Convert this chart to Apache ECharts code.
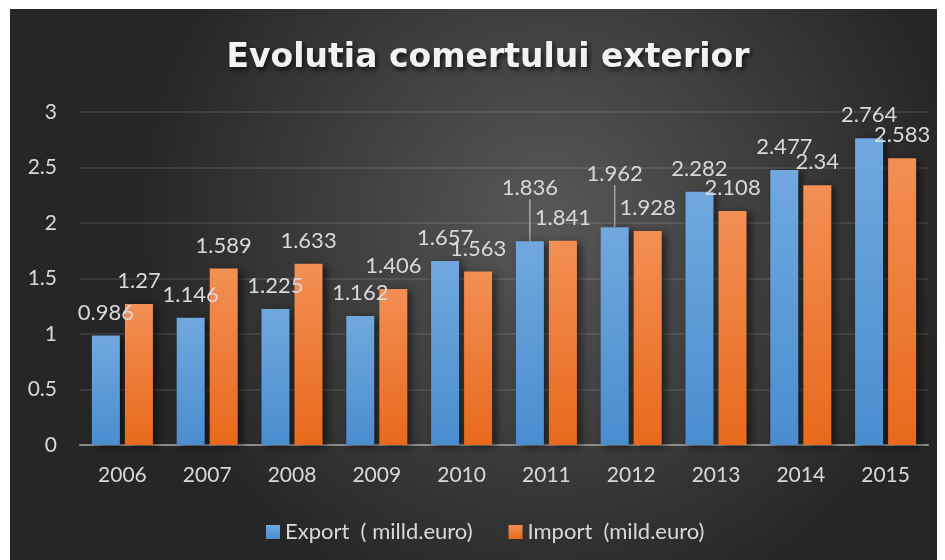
<!DOCTYPE html>
<html>
<head>
<meta charset="utf-8">
<script src="https://cdn.jsdelivr.net/npm/echarts@6/dist/echarts.min.js"></script>
<style>
    html, body { margin: 0; padding: 0; background: #fff; }
    #chart_1 { width: 945px; height: 560px; }
</style>
</head>
<body>
<div id="chart_1"></div>
<script>
// date grafic
var years = ['2006', '2007', '2008', '2009', '2010', '2011', '2012', '2013', '2014', '2015'];
var exportVals = [0.986, 1.146, 1.225, 1.162, 1.657, 1.836, 1.962, 2.282, 2.477, 2.764];
var importVals = [1.27, 1.589, 1.633, 1.406, 1.563, 1.841, 1.928, 2.108, 2.34, 2.583];
var yTicks = [0, 0.5, 1, 1.5, 2, 2.5, 3];
var seriesNames = ['Export  ( milld.euro)', 'Import  (mild.euro)'];
// etichete mutate in sus (cu linie)
var movedLabels = [5, 6];

var chart_1 = echarts.init(document.getElementById('chart_1'));

var txtColor = '#d9d9d9';
var font = 'Lato, "Noto Sans", sans-serif';

function grad(top, bottom) {
    return new echarts.graphic.LinearGradient(0, 0, 0, 1, [
        { offset: 0, color: top },
        { offset: 1, color: bottom }
    ]);
}

var exportData = exportVals.map(function (v, i) {
    if (movedLabels.indexOf(i) >= 0) {
        return { value: v, labelLine: { show: true, lineStyle: { color: '#a6a6a6', width: 1.5 } } };
    }
    return v;
});

var barLabel = {
    show: true,
    position: 'top',
    distance: 12,
    color: txtColor,
    fontSize: 22,
    fontFamily: font
};

var option = {
    backgroundColor: '#ffffff',
    textStyle: { fontFamily: font },
    graphic: [{
        type: 'rect',
        silent: true,
        z: -10,
        left: 10,
        top: 9,
        shape: { width: 927, height: 551 },
        style: {
            fill: new echarts.graphic.RadialGradient(0.58, 0.38, 0.75, [
                { offset: 0, color: '#575757' },
                { offset: 1, color: '#262626' }
            ])
        }
    }],
    title: {
        text: 'Evolutia comertului exterior',
        left: 483,
        top: 37,
        textAlign: 'center',
        textStyle: {
            color: '#f2f2f2',
            fontSize: 33,
            fontWeight: 'bold',
            fontFamily: '"DejaVu Sans", sans-serif',
            textShadowColor: 'rgba(0,0,0,0.7)',
            textShadowBlur: 5,
            textShadowOffsetX: 2,
            textShadowOffsetY: 3
        }
    },
    legend: {
        data: seriesNames,
        left: 261,
        top: 516,
        icon: 'rect',
        itemWidth: 14,
        itemHeight: 14,
        itemGap: 36,
        textStyle: { color: txtColor, fontSize: 22, fontFamily: font }
    },
    grid: {
        left: 80,
        right: 17,
        top: 112,
        bottom: 115
    },
    xAxis: {
        type: 'category',
        data: years,
        axisTick: { show: false },
        axisLine: { lineStyle: { color: '#8c8c8c', width: 2 } },
        axisLabel: { color: txtColor, fontSize: 21, margin: 20, fontFamily: font }
    },
    yAxis: {
        type: 'value',
        min: yTicks[0],
        max: yTicks[yTicks.length - 1],
        interval: 0.5,
        axisLine: { show: false },
        axisTick: { show: false },
        axisLabel: { color: txtColor, fontSize: 21, margin: 23, fontFamily: font },
        splitLine: { lineStyle: { color: 'rgba(255,255,255,0.13)', width: 1.5 } }
    },
    series: [{
        name: seriesNames[0],
        type: 'bar',
        data: exportData,
        barWidth: 28,
        barGap: '18%',
        itemStyle: {
            color: grad('#70a8de', '#4a8dcf'),
            shadowColor: 'rgba(0,0,0,0.55)',
            shadowBlur: 8,
            shadowOffsetX: 4,
            shadowOffsetY: 2
        },
        label: barLabel,
        labelLayout: function (params) {
            if (movedLabels.indexOf(params.dataIndex) >= 0) {
                return { dy: -30 };
            }
            return {};
        }
    }, {
        name: seriesNames[1],
        type: 'bar',
        data: importVals,
        barWidth: 28,
        itemStyle: {
            color: grad('#f38f54', '#e8691c'),
            shadowColor: 'rgba(0,0,0,0.55)',
            shadowBlur: 8,
            shadowOffsetX: 4,
            shadowOffsetY: 2
        },
        label: barLabel
    }]
};
chart_1.setOption(option);
</script>
</body>
</html>
